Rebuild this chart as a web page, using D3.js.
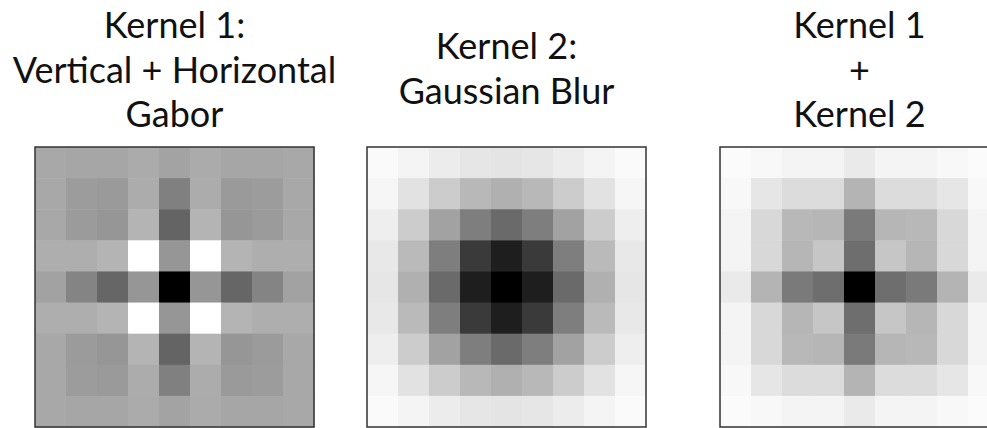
<!DOCTYPE html>
<html>
<head>
<meta charset="utf-8">
<script src="https://cdn.jsdelivr.net/npm/d3@7/dist/d3.min.js"></script>
<style>
  html, body { margin: 0; padding: 0; background: #ffffff; overflow: hidden; }
  svg { display: block; }
</style>
</head>
<body>
<svg id="chart" width="987" height="428"></svg>
<script>
// Grey level of each kernel cell (0 = black, 255 = white), row by row
const kernel1 = [
  [168,166,166,171,163,171,166,166,168],
  [168,156,154,172,128,172,154,156,168],
  [168,155,150,180,100,180,150,155,168],
  [174,174,180,255,150,255,180,174,174],
  [162,132,102,150,  0,150,102,132,162],
  [174,174,180,255,150,255,180,174,174],
  [168,155,150,180,100,180,150,155,168],
  [168,156,154,172,128,172,154,156,168],
  [168,166,166,171,163,171,166,166,168]
];
const kernel2 = [
  [250,244,236,230,228,230,236,244,250],
  [246,226,204,184,176,184,204,226,246],
  [238,204,162,126,106,126,162,204,238],
  [232,186,126, 58, 30, 58,126,186,232],
  [230,176,106, 30,  0, 30,106,176,230],
  [232,186,126, 58, 30, 58,126,186,232],
  [238,204,162,126,106,126,162,204,238],
  [246,226,204,184,176,184,204,226,246],
  [250,244,236,230,228,230,236,244,250]
];
const kernel3 = [
  [251,248,244,244,234,244,244,248,251],
  [248,230,220,220,180,220,220,230,248],
  [244,216,184,182,122,182,184,216,244],
  [244,216,182,198,110,198,182,216,244],
  [234,180,122,110,  0,110,122,180,234],
  [244,216,182,198,110,198,182,216,244],
  [244,216,184,182,122,182,184,216,244],
  [248,230,220,220,180,220,220,230,248],
  [251,248,244,244,234,244,244,248,251]
];
const titles = [
  ["Kernel 1:", "Vertical + Horizontal", "Gabor"],
  ["Kernel 2:", "Gaussian Blur"],
  ["Kernel 1", "+", "Kernel 2"]
];
const kernels = [kernel1, kernel2, kernel3];
const indices = d3.range(9);

const svg = d3.select("#chart");
const panelX = [35, 367, 720];
const panelY = 147;
const size = 279;
const sizeY = 280;
const titleTop = [38, 59, 38];
const lineH = 44.5;

const gray = d3.scaleLinear().domain([0, 255]).range(["#000000", "#ffffff"]);
const x = d3.scaleBand().domain(indices).range([0, size]);
const y = d3.scaleBand().domain(indices).range([0, sizeY]);

kernels.forEach((k, p) => {
  const g = svg.append("g").attr("transform", `translate(${panelX[p]},${panelY})`);
  const cells = [];
  k.forEach((row, r) => row.forEach((v, c) => cells.push({r, c, v})));
  g.selectAll("rect.cell").data(cells).join("rect")
    .attr("class", "cell")
    .attr("x", d => x(d.c))
    .attr("y", d => y(d.r))
    .attr("width", x.bandwidth() + 0.5)
    .attr("height", y.bandwidth() + 0.5)
    .attr("fill", d => gray(d.v));
  g.append("rect")
    .attr("x", 0).attr("y", 0)
    .attr("width", size).attr("height", sizeY)
    .attr("fill", "none")
    .attr("stroke", "#333333")
    .attr("stroke-width", 1.5);

  const cx = panelX[p] + size / 2;
  svg.append("g").selectAll("text").data(titles[p]).join("text")
    .attr("x", cx)
    .attr("y", (d, i) => titleTop[p] + i * lineH)
    .attr("text-anchor", "middle")
    .attr("font-family", "Lato, 'Open Sans', sans-serif")
    .attr("font-size", 36)
    .attr("fill", "#111111")
    .text(d => d);
});
</script>
</body>
</html>
